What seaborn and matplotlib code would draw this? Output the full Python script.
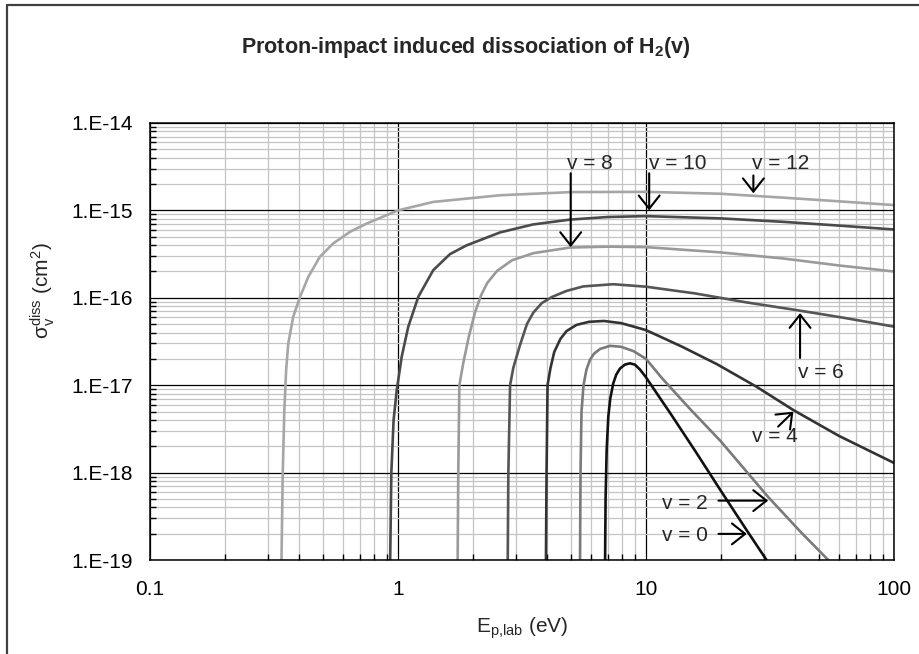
import matplotlib
matplotlib.use("Agg")
import matplotlib.pyplot as plt
from matplotlib.lines import Line2D
import seaborn as sns

# curves (x = E_p,lab in eV, y = cross section in cm^2)
v0_x = [6.84, 6.871, 6.941, 7.047, 7.178, 7.379, 7.586, 7.852, 8.222, 8.61, 9.016, 9.462,
        10.0, 10.38, 12.59, 15.85, 19.95, 25.47, 30.62]
v0_y = [1e-19, 5.0e-19, 1.82e-18, 4.37e-18, 7.08e-18, 1.05e-17, 1.32e-17, 1.55e-17, 1.72e-17,
        1.78e-17, 1.72e-17, 1.51e-17, 1.23e-17, 1.05e-17, 4.68e-18, 1.74e-18, 6.31e-19,
        2.19e-19, 1e-19]

v2_x = [5.42, 5.445, 5.495, 5.598, 5.754, 5.943, 6.166, 6.531, 7.161, 7.943, 8.913, 10.0,
        11.61, 15.0, 20.0, 31.1, 42.0, 54.3]
v2_y = [1e-19, 1e-18, 5.0e-18, 1e-17, 1.51e-17, 1.95e-17, 2.29e-17, 2.6e-17, 2.82e-17,
        2.75e-17, 2.45e-17, 2.0e-17, 1.2e-17, 5.4e-18, 2.29e-18, 5.25e-19, 2.1e-19, 1e-19]

v4_x = [3.95, 3.972, 4.009, 4.121, 4.266, 4.519, 4.786, 5.248, 5.888, 6.761, 7.943, 10.0,
        14.0, 19.32, 27.99, 39.26, 60.0, 100.0]
v4_y = [1e-19, 1e-18, 1e-17, 1.58e-17, 2.4e-17, 3.39e-17, 4.17e-17, 4.9e-17, 5.31e-17,
        5.43e-17, 5.13e-17, 4.27e-17, 2.75e-17, 1.74e-17, 9.55e-18, 5.2e-18, 2.63e-18, 1.29e-18]

v6_x = [2.77, 2.786, 2.831, 2.917, 3.097, 3.311, 3.512, 3.802, 4.169, 4.786, 5.585, 7.379,
        10.0, 15.85, 25.12, 40.36, 63.1, 100.0]
v6_y = [1e-19, 1e-18, 1e-17, 1.58e-17, 2.82e-17, 5.01e-17, 6.76e-17, 8.71e-17, 1.02e-16,
        1.2e-16, 1.35e-16, 1.43e-16, 1.34e-16, 1.12e-16, 8.91e-17, 7.24e-17, 5.89e-17, 4.68e-17]

v8_x = [1.74, 1.75, 1.768, 1.832, 1.928, 2.042, 2.163, 2.291, 2.512, 2.884, 3.512, 4.94,
        7.08, 10.0, 19.95, 35.6, 60.3, 100.0]
v8_y = [1e-19, 1e-18, 1e-17, 1.78e-17, 3.55e-17, 6.76e-17, 1.07e-16, 1.48e-16, 2.04e-16,
        2.69e-16, 3.24e-16, 3.76e-16, 3.85e-16, 3.8e-16, 3.31e-16, 2.82e-16, 2.34e-16, 2.0e-16]

v10_x = [0.93, 0.94, 0.96, 0.989, 1.035, 1.10, 1.208, 1.387, 1.62, 1.89, 2.58, 3.5, 4.94,
         7.0, 10.0, 20.0, 35.7, 60.0, 100.0]
v10_y = [1e-19, 1e-18, 4e-18, 8.9e-18, 2.12e-17, 4.67e-17, 1.03e-16, 2.07e-16, 3.16e-16,
         3.98e-16, 5.6e-16, 6.9e-16, 7.85e-16, 8.4e-16, 8.6e-16, 8.1e-16, 7.4e-16, 6.7e-16,
         6.05e-16]

v12_x = [0.339, 0.343, 0.348, 0.354, 0.361, 0.378, 0.403, 0.435, 0.484, 0.548, 0.640, 0.748,
         1.0, 1.387, 2.58, 5.0, 10.0, 20.0, 35.7, 60.0, 100.0]
v12_y = [1e-19, 1e-18, 5e-18, 1.5e-17, 3.0e-17, 6.07e-17, 1.03e-16, 1.74e-16, 2.94e-16,
         4.19e-16, 5.68e-16, 7.08e-16, 1.0e-15, 1.25e-15, 1.49e-15, 1.62e-15, 1.63e-15,
         1.55e-15, 1.4e-15, 1.27e-15, 1.15e-15]

curves = [
    (v0_x, v0_y, "#111111"),
    (v2_x, v2_y, "#7a7a7a"),
    (v4_x, v4_y, "#333333"),
    (v6_x, v6_y, "#555555"),
    (v8_x, v8_y, "#9a9a9a"),
    (v10_x, v10_y, "#4a4a4a"),
    (v12_x, v12_y, "#a6a6a6"),
]

x_ticks = [0.1, 1, 10, 100]
x_tick_labels = ["0.1", "1", "10", "100"]
y_ticks = [1e-19, 1e-18, 1e-17, 1e-16, 1e-15, 1e-14]
y_tick_labels = ["1.E-19", "1.E-18", "1.E-17", "1.E-16", "1.E-15", "1.E-14"]

# label text position, arrow tail, arrow tip
labels = [
    ("v = 8", (4.79, 3.45e-15), (4.97, 2.66e-15), (4.97, 3.8e-16)),
    ("v = 10", (10.3, 3.45e-15), (10.3, 2.66e-15), (10.3, 1.0e-15)),
    ("v = 12", (26.7, 3.45e-15), (27.1, 2.51e-15), (27.1, 1.57e-15)),
    ("v = 6", (41.0, 1.38e-17), (41.8, 2.05e-17), (41.8, 6.7e-17)),
    ("v = 4", (26.7, 2.58e-18), (34.1, 3.36e-18), (39.3, 4.98e-18)),
    ("v = 2", (11.6, 4.47e-19), (19.6, 4.78e-19), (31.1, 4.78e-19)),
    ("v = 0", (11.6, 1.89e-19), (19.6, 1.99e-19), (25.5, 1.99e-19)),
]

sns.set_style("white")
plt.rcParams["font.family"] = ["Liberation Sans", "DejaVu Sans"]
plt.rcParams["mathtext.default"] = "regular"
FS = 15

fig = plt.figure(figsize=(9.19, 6.54), dpi=100)
ax = fig.add_axes([150 / 919, 1 - 560 / 654, 744 / 919, 437 / 654])
ax.set_xscale("log")
ax.set_yscale("log")

for xs, ys, col in curves:
    sns.lineplot(x=xs, y=ys, ax=ax, color=col, lw=1.9, estimator=None, sort=False)

ax.set_xlim(0.1, 100)
ax.set_ylim(1e-19, 1e-14)

ax.set_xticks(x_ticks, x_tick_labels)
ax.set_yticks(y_ticks, y_tick_labels)
ax.tick_params(which="major", direction="out", length=6, width=1, color="black",
               labelsize=FS, labelcolor="black")
ax.tick_params(axis="x", which="major", pad=8.5)
ax.tick_params(axis="y", which="major", pad=6)
ax.tick_params(which="minor", direction="in", length=4, width=1, color="black",
               bottom=True, left=True)

ax.set_axisbelow(True)
ax.grid(which="minor", color="#c4c4c4", lw=0.9)
ax.grid(which="major", color="black", lw=0.9)
for sp in ax.spines.values():
    sp.set_color("black")
    sp.set_linewidth(1.1)

for text, txy, tail, tip in labels:
    ax.text(txy[0], txy[1], text, fontsize=FS, ha="left", va="center")
    ax.annotate("", xy=tip, xytext=tail,
                arrowprops=dict(arrowstyle="->,head_length=0.95,head_width=0.75",
                                mutation_scale=10, lw=1.5, color="black",
                                shrinkA=0, shrinkB=0))

ax.set_xlabel("E$_{p{,}lab}$ (eV)", fontsize=FS, labelpad=12)
fig.text(43 / 919, 1 - 291 / 654, "σ$_v^{diss}$ (cm$^2$)", fontsize=FS,
         rotation=90, ha="center", va="center")
fig.text(466 / 919, 1 - 48 / 654, "Proton-impact induced dissociation of H$_2$(v)",
         fontsize=15.5, fontweight="bold", ha="center", va="center")

# outer frame (top and left edges only are visible in the reference)
fig.add_artist(Line2D([7 / 919, 1.0], [1 - 5 / 654, 1 - 5 / 654], color="#404040", lw=1.6))
fig.add_artist(Line2D([7 / 919, 7 / 919], [0.0, 1 - 5 / 654], color="#404040", lw=1.6))

fig.savefig("out.png", dpi=100)
